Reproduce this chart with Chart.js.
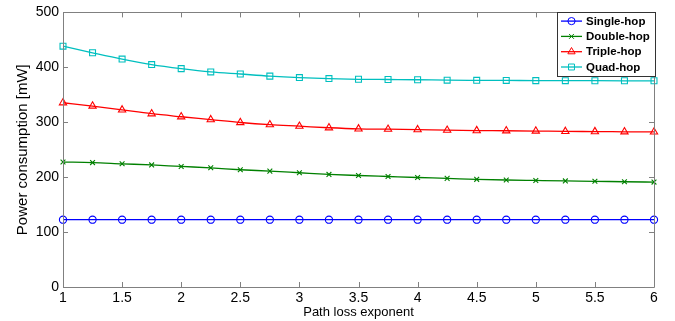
<!DOCTYPE html>
<html>
<head>
<meta charset="utf-8">
<script src="https://cdn.jsdelivr.net/npm/chart.js@4"></script>
<style>
  html, body { margin: 0; padding: 0; background: #fff; }
  #wrap { width: 675px; height: 321px; }
</style>
</head>
<body>
<div id="wrap"><canvas id="plot"></canvas></div>
<script>
// path loss exponent (x values)
const pathLoss = [1, 1.25, 1.5, 1.75, 2, 2.25, 2.5, 2.75, 3, 3.25, 3.5, 3.75, 4,
                  4.25, 4.5, 4.75, 5, 5.25, 5.5, 5.75, 6];

// power consumption [mW]
const singleHop = [122.5, 122.5, 122.5, 122.5, 122.5, 122.5, 122.5, 122.5, 122.5, 122.5, 122.5,
                   122.5, 122.5, 122.5, 122.5, 122.5, 122.5, 122.5, 122.5, 122.5, 122.5];
const doubleHop = [227.5, 226.5, 224.3, 222.3, 219.5, 217, 213.5, 211, 208, 205, 203,
                   201.2, 199.4, 197.8, 196, 194.8, 194, 193.2, 192.5, 191.6, 191];
const tripleHop = [335.5, 329.5, 322.5, 315.5, 310, 304.8, 299.5, 295.5, 292.8, 290, 288,
                   287.3, 286.5, 285.5, 284.8, 284.5, 284, 283.3, 283, 282.6, 282.3];
const quadHop = [438.5, 426.5, 415, 405, 397.6, 391.6, 387.8, 384, 381.3, 379.5, 378.2,
                 377.8, 377.4, 376.6, 376.3, 376.1, 375.8, 375.7, 375.6, 375.5, 375.5];

const seriesNames = ['Single-hop', 'Double-hop', 'Triple-hop', 'Quad-hop'];
const seriesColors = ['#0000FF', '#008000', '#FF0000', '#00BFBF'];
const seriesMarkers = ['circle', 'crossRot', 'triangle', 'rect'];
const markerSizes = [3.6, 3.4, 4.2, 4.2];

const xTicks = [1, 1.5, 2, 2.5, 3, 3.5, 4, 4.5, 5, 5.5, 6];
const yTicks = [0, 100, 200, 300, 400, 500];

const allSeries = [singleHop, doubleHop, tripleHop, quadHop];
const datasets = allSeries.map(function(vals, i) {
  return {
    label: seriesNames[i],
    data: vals.map(function(v, j) { return { x: pathLoss[j], y: v }; }),
    borderColor: seriesColors[i],
    borderWidth: 1.3,
    pointStyle: seriesMarkers[i],
    pointRadius: markerSizes[i],
    pointBorderColor: seriesColors[i],
    pointBackgroundColor: 'rgba(0,0,0,0)',
    pointBorderWidth: 1.1,
    tension: 0.4,
    cubicInterpolationMode: 'monotone',
    fill: false,
    clip: false
  };
});

const axisGray = '#808080';
const tickFont = { family: 'Liberation Sans, Arial, sans-serif', size: 14 };

// MATLAB-style box with inward ticks on all four sides
const boxPlugin = {
  id: 'matlabBox',
  afterDraw(chart) {
    const ctx = chart.ctx;
    const a = chart.chartArea;
    const xs = chart.scales.x, ys = chart.scales.y;
    ctx.save();
    ctx.strokeStyle = axisGray;
    ctx.lineWidth = 1;
    ctx.beginPath();
    ctx.rect(Math.round(a.left) + 0.5, Math.round(a.top) + 0.5,
             Math.round(a.right - a.left), Math.round(a.bottom - a.top));
    xTicks.forEach(function(t) {
      const px = Math.round(xs.getPixelForValue(t)) + 0.5;
      ctx.moveTo(px, a.bottom); ctx.lineTo(px, a.bottom - 5);
      ctx.moveTo(px, a.top); ctx.lineTo(px, a.top + 5);
    });
    yTicks.forEach(function(t) {
      const py = Math.round(ys.getPixelForValue(t)) + 0.5;
      ctx.moveTo(a.left, py); ctx.lineTo(a.left + 5, py);
      ctx.moveTo(a.right, py); ctx.lineTo(a.right - 5, py);
    });
    ctx.stroke();
    ctx.restore();
  }
};

// legend box inside the top right corner
const legendPlugin = {
  id: 'insideLegend',
  afterDraw(chart) {
    const ctx = chart.ctx;
    const a = chart.chartArea;
    const w = 98, h = 64;
    const x0 = a.right - w + 1, y0 = a.top;
    ctx.save();
    ctx.fillStyle = '#fff';
    ctx.fillRect(x0, y0, w, h);
    ctx.strokeStyle = '#333';
    ctx.lineWidth = 1;
    ctx.strokeRect(Math.round(x0) + 0.5, Math.round(y0) + 0.5, w, h);
    ctx.font = 'bold 11.5px Liberation Sans, Arial, sans-serif';
    ctx.textBaseline = 'middle';
    ctx.textAlign = 'left';
    seriesNames.forEach(function(name, i) {
      const cy = y0 + 8.7 + i * 15.3;
      ctx.strokeStyle = seriesColors[i];
      ctx.lineWidth = 1.3;
      ctx.beginPath();
      ctx.moveTo(x0 + 4, cy); ctx.lineTo(x0 + 25, cy);
      ctx.stroke();
      ctx.lineWidth = 1;
      ctx.fillStyle = 'rgba(0,0,0,0)';
      Chart.helpers.drawPoint(ctx, { pointStyle: seriesMarkers[i], radius: markerSizes[i],
                                    rotation: 0, borderWidth: 1 }, x0 + 14.5, cy);
      ctx.fillStyle = '#000';
      ctx.fillText(name, x0 + 29, cy + 0.5);
    });
    ctx.restore();
  }
};

new Chart(document.getElementById('plot'), {
  type: 'line',
  data: { datasets: datasets },
  options: {
    responsive: true,
    maintainAspectRatio: false,
    animation: false,
    layout: { padding: { top: 12, right: 21, left: 0, bottom: 0 } },
    plugins: {
      legend: { display: false },
      tooltip: { enabled: false }
    },
    scales: {
      x: {
        type: 'linear',
        min: 1,
        max: 6,
        afterBuildTicks: function(scale) { scale.ticks = xTicks.map(function(v) { return { value: v }; }); },
        afterFit: function(scale) { scale.height = 34; },
        ticks: {
          color: '#000', font: tickFont, padding: 3, autoSkip: false, maxRotation: 0,
          callback: function(v) { return String(v); }
        },
        grid: { display: false, drawTicks: false },
        border: { display: false },
        title: {
          display: true,
          text: 'Path loss exponent',
          color: '#000',
          font: { family: 'Liberation Sans, Arial, sans-serif', size: 13 },
          padding: { top: 0, bottom: 1 }
        }
      },
      y: {
        min: 0,
        max: 500,
        afterBuildTicks: function(scale) { scale.ticks = yTicks.map(function(v) { return { value: v }; }); },
        afterFit: function(scale) { scale.width = 63; },
        ticks: { color: '#000', font: tickFont, padding: 4, callback: function(v) { return String(v); } },
        grid: { display: false, drawTicks: false },
        border: { display: false },
        title: {
          display: true,
          text: 'Power consumption [mW]',
          color: '#000',
          font: { family: 'Liberation Sans, Arial, sans-serif', size: 15 },
          padding: { top: 14, bottom: 0 }
        }
      }
    }
  },
  plugins: [boxPlugin, legendPlugin]
});
</script>
</body>
</html>
